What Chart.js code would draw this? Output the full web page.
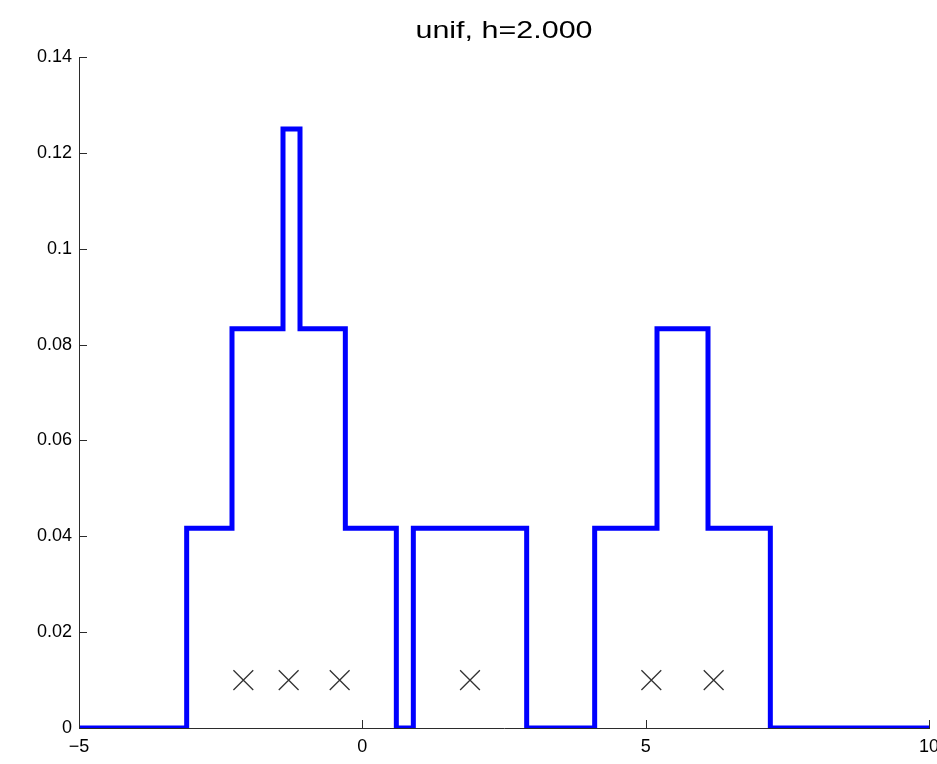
<!DOCTYPE html>
<html>
<head>
<meta charset="utf-8">
<script src="https://cdn.jsdelivr.net/npm/chart.js@4/dist/chart.umd.min.js"></script>
<style>
  html, body { margin: 0; padding: 0; background: #fff; }
  #c { display: block; }
</style>
</head>
<body>
<canvas id="c" width="937" height="764"></canvas>
<script>
// Uniform-kernel density estimate: left edge of each flat step and its height
const stepEdges   = [-5, -3.1, -2.3, -1.4, -1.1, -0.3, 0.6, 0.9, 2.9, 4.1, 5.2, 6.1, 7.2, 10];
const stepDensity = [0, 0.0417, 0.0833, 0.125, 0.0833, 0.0417, 0, 0.0417, 0, 0.0417, 0.0833, 0.0417, 0, 0];

// Sample points, drawn as crosses
const sampleX = [-2.1, -1.3, -0.4, 1.9, 5.1, 6.2];
const sampleY = [0.01, 0.01, 0.01, 0.01, 0.01, 0.01];

// Axis ticks
const xTicks = [-5, 0, 5, 10];
const yTicks = [0, 0.02, 0.04, 0.06, 0.08, 0.1, 0.12, 0.14];

const titleText = 'unif, h=2.000';

const FONT = 'Liberation Sans, Arial, Helvetica, sans-serif';
const AXIS_COLOR = '#2b2b2b';

const fmt = v => (v < 0 ? '\u2212' + Math.abs(v) : String(v));

// Inward tick marks on both axes, plus the x tick labels (these may run
// past the right edge of the canvas, so the scale does not reserve room)
const axisDecor = {
  id: 'axisDecor',
  afterDatasetsDraw(chart) {
    const { ctx, chartArea, scales } = chart;
    const len = 8;
    ctx.save();
    ctx.strokeStyle = AXIS_COLOR;
    ctx.lineWidth = 1;
    ctx.beginPath();
    xTicks.forEach(v => {
      const px = Math.round(scales.x.getPixelForValue(v)) + 0.5;
      ctx.moveTo(px, chartArea.bottom);
      ctx.lineTo(px, chartArea.bottom - len);
    });
    yTicks.forEach(v => {
      const py = Math.round(scales.y.getPixelForValue(v)) + 0.5;
      ctx.moveTo(chartArea.left, py);
      ctx.lineTo(chartArea.left + len, py);
    });
    ctx.stroke();

    ctx.fillStyle = '#000';
    ctx.font = '18px ' + FONT;
    ctx.textAlign = 'center';
    ctx.textBaseline = 'middle';
    xTicks.forEach(v => {
      ctx.fillText(fmt(v), scales.x.getPixelForValue(v), chartArea.bottom + 19);
    });
    ctx.restore();
  }
};

// Title centred over the plot area, in a slightly wide face
const plotTitle = {
  id: 'plotTitle',
  afterDraw(chart) {
    const { ctx, chartArea } = chart;
    ctx.save();
    ctx.fillStyle = '#000';
    ctx.font = '24px ' + FONT;
    ctx.textAlign = 'center';
    ctx.textBaseline = 'alphabetic';
    ctx.translate((chartArea.left + chartArea.right) / 2, 38);
    ctx.scale(1.27, 1);
    ctx.fillText(titleText, 0, 0);
    ctx.restore();
  }
};

new Chart(document.getElementById('c'), {
  type: 'line',
  data: {
    datasets: [
      {
        label: 'density',
        data: stepEdges.map((x, i) => ({ x, y: stepDensity[i] })),
        stepped: 'before',
        borderColor: '#0000ff',
        borderWidth: 5,
        borderJoinStyle: 'miter',
        borderCapStyle: 'butt',
        pointRadius: 0,
        fill: false,
        order: 2
      },
      {
        type: 'scatter',
        label: 'samples',
        data: sampleX.map((x, i) => ({ x, y: sampleY[i] })),
        pointStyle: 'crossRot',
        pointRadius: 14,
        pointBorderColor: '#333333',
        pointBorderWidth: 1.3,
        showLine: false,
        order: 1
      }
    ]
  },
  options: {
    responsive: false,
    animation: false,
    events: [],
    layout: { autoPadding: false, padding: { left: 0, right: 8, top: 57, bottom: 0 } },
    plugins: {
      legend: { display: false },
      tooltip: { enabled: false },
      title: { display: false }
    },
    scales: {
      x: {
        type: 'linear',
        min: -5,
        max: 10,
        afterBuildTicks: s => { s.ticks = xTicks.map(v => ({ value: v })); },
        afterFit: s => { s.height = 36; s.paddingLeft = 0; s.paddingRight = 0; },
        ticks: { display: false },
        grid: { display: true, drawOnChartArea: false, drawTicks: false },
        border: { display: true, color: AXIS_COLOR, width: 1 }
      },
      y: {
        type: 'linear',
        min: 0,
        max: 0.14,
        afterBuildTicks: s => { s.ticks = yTicks.map(v => ({ value: v })); },
        afterFit: s => { s.width = 79; s.paddingTop = 0; s.paddingBottom = 0; },
        ticks: {
          color: '#000',
          font: { family: FONT, size: 18 },
          padding: 7,
          autoSkip: false,
          callback: v => fmt(v)
        },
        grid: { display: true, drawOnChartArea: false, drawTicks: false },
        border: { display: true, color: AXIS_COLOR, width: 1 }
      }
    }
  },
  plugins: [axisDecor, plotTitle]
});
</script>
</body>
</html>
